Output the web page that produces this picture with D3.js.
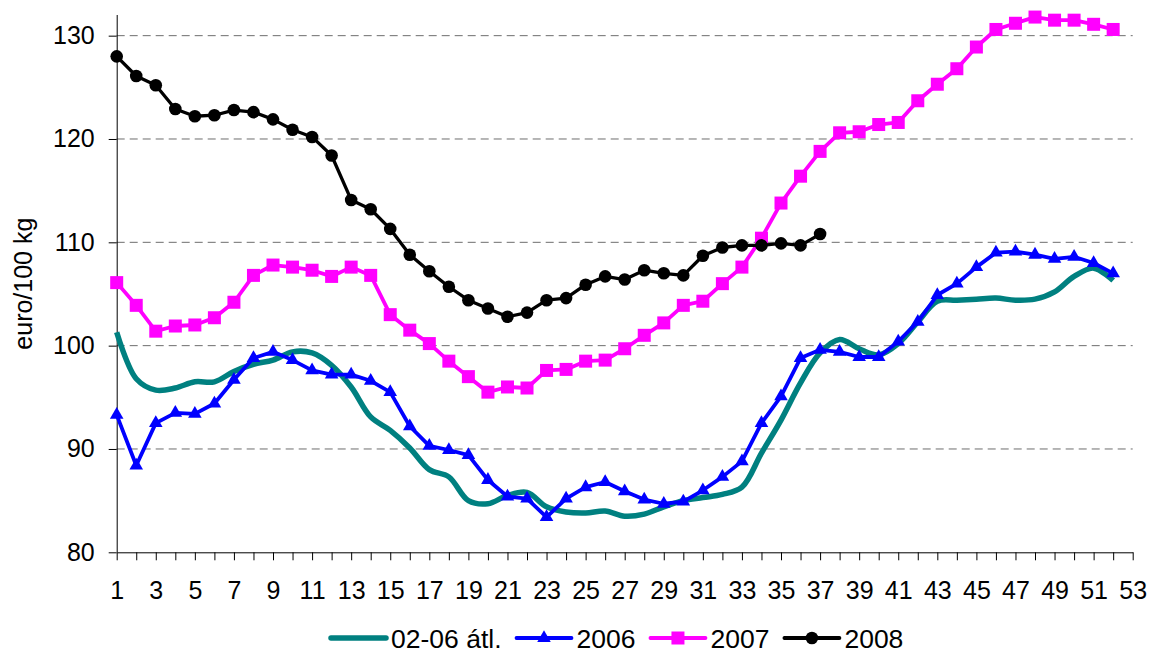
<!DOCTYPE html>
<html>
<head>
<meta charset="utf-8">
<script src="https://cdn.jsdelivr.net/npm/d3@7"></script>
<style>
  body { margin: 0; background: #fff; }
  svg { display: block; font-family: "Liberation Sans", Arial, sans-serif; }
</style>
</head>
<body>
<svg id="chart"></svg>
<script>
// weeks 1..53 on the axis, series values
var weekTicks = [1,3,5,7,9,11,13,15,17,19,21,23,25,27,29,31,33,35,37,39,41,43,45,47,49,51,53];
var yTicks = [80, 90, 100, 110, 120, 130];

var avg0206 = [101.3, 96.8, 95.7, 95.9, 96.5, 96.5, 97.5, 98.2, 98.6, 99.4,
  99.3, 98.1, 96.0, 93.1, 91.8, 90.1, 88.0, 87.3, 85.0, 84.7,
  85.5, 85.8, 84.4, 83.9, 83.8, 84.0, 83.5, 83.7, 84.4, 85.0,
  85.3, 85.6, 86.3, 89.6, 92.8, 96.4, 99.3, 100.6, 99.7, 99.1,
  100.2, 102.3, 104.3, 104.4, 104.5, 104.6, 104.4, 104.5, 105.2, 106.7,
  107.5, 106.3];

var y2006 = [93.3, 88.4, 92.5, 93.5, 93.4, 94.4, 96.7, 98.8, 99.4, 98.6,
  97.6, 97.2, 97.2, 96.6, 95.5, 92.2, 90.3, 89.9, 89.4, 87.0,
  85.4, 85.2, 83.4, 85.2, 86.3, 86.8, 85.9, 85.1, 84.7, 84.9,
  86.0, 87.3, 88.8, 92.5, 95.1, 98.8, 99.6, 99.4, 98.9, 98.9,
  100.4, 102.3, 104.9, 106.0, 107.6, 109.0, 109.1, 108.8, 108.4, 108.6,
  108.0, 107.0];

var y2007 = [106.1, 103.9, 101.4, 101.9, 102.0, 102.7, 104.2, 106.8, 107.8, 107.6,
  107.3, 106.7, 107.6, 106.8, 103.0, 101.5, 100.2, 98.5, 97.0, 95.5,
  96.0, 95.9, 97.6, 97.7, 98.5, 98.6, 99.7, 101.0, 102.2, 103.9,
  104.3, 106.0, 107.6, 110.4, 113.8, 116.4, 118.8, 120.6, 120.7, 121.4,
  121.6, 123.7, 125.3, 126.8, 128.9, 130.6, 131.2, 131.8, 131.5, 131.5,
  131.1, 130.6];

var y2008 = [128.0, 126.1, 125.2, 122.9, 122.2, 122.3, 122.8, 122.6, 121.9, 120.9,
  120.2, 118.4, 114.1, 113.2, 111.3, 108.8, 107.2, 105.7, 104.4, 103.6,
  102.8, 103.2, 104.4, 104.6, 105.9, 106.7, 106.4, 107.3, 107.0, 106.8,
  108.7, 109.5, 109.7, 109.7, 109.9, 109.7, 110.8];

var seriesNames = ["02-06 átl.", "2006", "2007", "2008"];

var W = 1152, H = 655;
var margin = {top: 15, right: 19.3, bottom: 102.7, left: 116.7};
var width = W - margin.left - margin.right;
var height = H - margin.top - margin.bottom;

var svg = d3.select("#chart").attr("width", W).attr("height", H);
var g = svg.append("g").attr("transform", "translate(" + margin.left + "," + margin.top + ")");

var x = d3.scaleLinear().domain([1, 53]).range([0, width]);
var y = d3.scaleLinear().domain([80, 132]).range([height, 0]);

// dashed gridlines
g.append("g")
  .selectAll("line")
  .data(yTicks.filter(function(d) { return d > 80; }))
  .enter().append("line")
    .attr("x1", 0).attr("x2", width)
    .attr("y1", d => y(d)).attr("y2", d => y(d))
    .attr("stroke", "#6e6e6e")
    .attr("stroke-width", 1)
    .attr("stroke-dasharray", "8,5");

// y axis
var yAxis = g.append("g")
  .call(d3.axisLeft(y).tickValues(yTicks).tickSize(8).tickPadding(14).tickSizeOuter(0));
yAxis.select(".domain").attr("stroke", "#000").attr("d", "M0.5," + height + "V0");
yAxis.selectAll(".tick line").attr("stroke", "#000");
yAxis.selectAll("text").attr("font-size", 25).attr("fill", "#000")
  .attr("font-family", "Liberation Sans, Arial, sans-serif");

// x axis, one tick per week, labels every other week
var xAxis = g.append("g")
  .attr("transform", "translate(0," + height + ")")
  .call(d3.axisBottom(x).tickValues(d3.range(1, 54)).tickSize(8).tickPadding(21).tickSizeOuter(0)
    .tickFormat(function(d) { return weekTicks.indexOf(d) >= 0 ? d : ""; }));
xAxis.select(".domain").attr("stroke", "#000");
xAxis.selectAll(".tick line").attr("stroke", "#000");
xAxis.selectAll("text").attr("font-size", 25).attr("fill", "#000")
  .attr("font-family", "Liberation Sans, Arial, sans-serif");

// y label
svg.append("text")
  .attr("transform", "translate(32," + (margin.top + y(106)) + ") rotate(-90)")
  .attr("text-anchor", "middle")
  .attr("font-size", 25)
  .text("euro/100 kg");

var line = d3.line().x((d, i) => x(i + 1)).y(d => y(d));
var smooth = d3.line().curve(d3.curveCatmullRom.alpha(0.5)).x((d, i) => x(i + 1)).y(d => y(d));

// 02-06 average, smoothed, no markers
g.append("path").datum(avg0206)
  .attr("fill", "none").attr("stroke", "#008080").attr("stroke-width", 5.5)
  .attr("stroke-linejoin", "round").attr("d", smooth);

// 2006 triangles
g.append("path").datum(y2006)
  .attr("fill", "none").attr("stroke", "#0000ff").attr("stroke-width", 3.8)
  .attr("stroke-linejoin", "round").attr("d", line);
var tri = d3.symbol().type(d3.symbolTriangle).size(80);
g.append("g").selectAll("path")
  .data(y2006).enter().append("path")
    .attr("transform", (d, i) => "translate(" + x(i + 1) + "," + y(d) + ")")
    .attr("d", tri).attr("fill", "#0000ff");

// 2007 squares
g.append("path").datum(y2007)
  .attr("fill", "none").attr("stroke", "#ff00ff").attr("stroke-width", 3.8)
  .attr("stroke-linejoin", "round").attr("d", line);
g.append("g").selectAll("rect")
  .data(y2007).enter().append("rect")
    .attr("x", (d, i) => x(i + 1) - 6.5)
    .attr("y", d => y(d) - 6.5)
    .attr("width", 13).attr("height", 13)
    .attr("fill", "#ff00ff");

// 2008 circles
g.append("path").datum(y2008)
  .attr("fill", "none").attr("stroke", "#000").attr("stroke-width", 3.3)
  .attr("stroke-linejoin", "round").attr("d", line);
g.append("g").selectAll("circle")
  .data(y2008).enter().append("circle")
    .attr("cx", (d, i) => x(i + 1))
    .attr("cy", d => y(d))
    .attr("r", 6.3)
    .attr("fill", "#000");

// legend
var colors = ["#008080", "#0000ff", "#ff00ff", "#000"];
var legend = svg.append("g").attr("transform", "translate(331,638)");
var lx = 0;
seriesNames.forEach(function(name, i) {
  var it = legend.append("g").attr("transform", "translate(" + lx + ",0)");
  it.append("line").attr("x1", 0).attr("x2", 55).attr("y1", 0).attr("y2", 0)
    .attr("stroke", colors[i]).attr("stroke-width", i === 0 ? 5.5 : 3.8)
    .attr("stroke-linecap", "round");
  if (i === 1) it.append("path").attr("transform", "translate(27.5,0)").attr("d", tri).attr("fill", colors[i]);
  if (i === 2) it.append("rect").attr("x", 21).attr("y", -6.5).attr("width", 13).attr("height", 13).attr("fill", colors[i]);
  if (i === 3) it.append("circle").attr("cx", 27.5).attr("cy", 0).attr("r", 6.3).attr("fill", colors[i]);
  var t = it.append("text").attr("x", 60).attr("y", 9.5).attr("font-size", 26.5).text(name);
  lx += 60 + t.node().getComputedTextLength() + 15;
});
</script>
</body>
</html>
